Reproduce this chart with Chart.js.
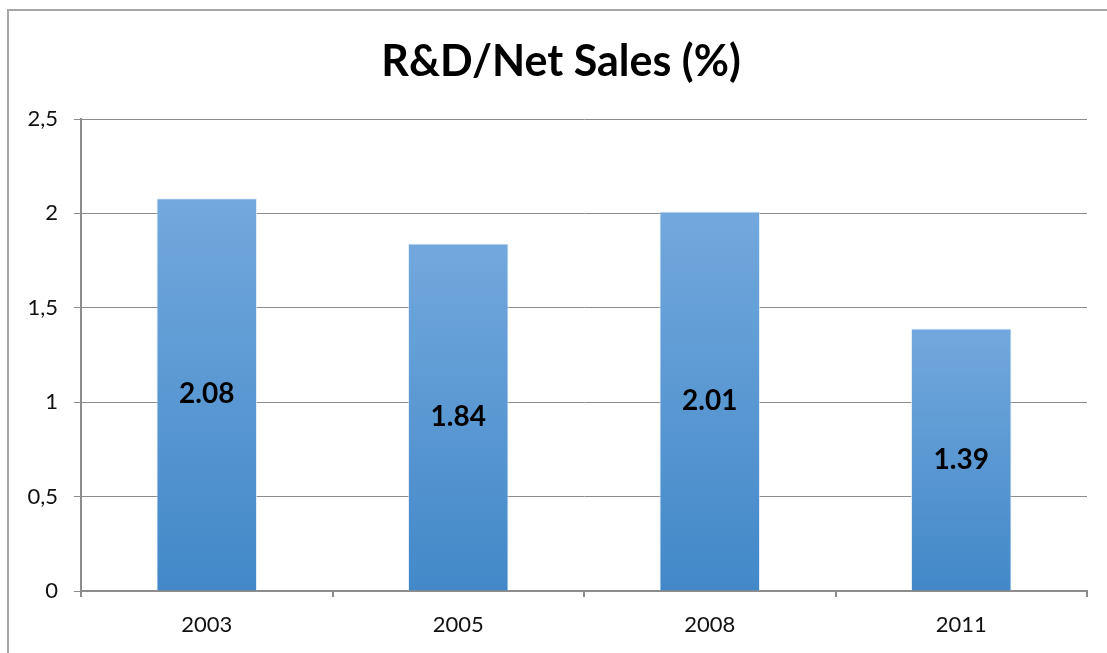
<!DOCTYPE html>
<html>
<head>
<meta charset="UTF-8">
<title>R&amp;D/Net Sales (%)</title>
<script src="https://cdn.jsdelivr.net/npm/chart.js"></script>
<style>
  html, body { margin: 0; padding: 0; background: #fff; overflow: hidden; }
  #frame {
    position: absolute; left: 7px; top: 9px; width: 1200px; height: 700px;
    border-left: 2px solid #a6a6a6; border-top: 2px solid #a6a6a6;
  }
  #wrap { position: absolute; left: 0; top: 0; width: 1107px; height: 653px; }
</style>
</head>
<body>
<div id="frame"></div>
<div id="wrap"><canvas id="chart"></canvas></div>
<script>
// chart data
const years = ['2003', '2005', '2008', '2011'];
const ratio = [2.08, 1.84, 2.01, 1.39];
const yMin = 0, yMax = 2.5, yStep = 0.5;
const chartTitle = 'R&D/Net Sales (%)';

const fontFamily = 'Lato, "Open Sans", sans-serif';

// value labels in the middle of each bar, title over the frame centre
const barLabels = {
    id: 'barLabels',
    afterDatasetsDraw(chart) {
        const ctx = chart.ctx;
        const meta = chart.getDatasetMeta(0);
        ctx.save();
        ctx.font = 'bold 28px ' + fontFamily;
        ctx.fillStyle = '#000';
        ctx.textAlign = 'center';
        ctx.textBaseline = 'middle';
        meta.data.forEach((bar, i) => {
            ctx.fillText(ratio[i].toFixed(2), bar.x, (bar.y + bar.base) / 2);
        });
        ctx.font = 'bold 43px ' + fontFamily;
        ctx.fillText(chartTitle, 561, 62);
        ctx.restore();
    }
};

new Chart(document.getElementById('chart'), {
    type: 'bar',
    data: {
        labels: years,
        datasets: [{
            data: ratio,
            backgroundColor: function(c) {
                const chart = c.chart;
                if (!chart.chartArea) return '#5b9bd5';
                const yScale = chart.scales.y;
                const top = yScale.getPixelForValue(ratio[c.dataIndex]);
                const bottom = yScale.getPixelForValue(0);
                const g = chart.ctx.createLinearGradient(0, top, 0, bottom);
                g.addColorStop(0, '#72a8dd');
                g.addColorStop(1, '#4288c8');
                return g;
            },
            borderColor: 'rgba(220,235,250,0.7)',
            borderWidth: 1,
            categoryPercentage: 1,
            barPercentage: 0.4
        }]
    },
    options: {
        responsive: true,
        maintainAspectRatio: false,
        animation: false,
        layout: { padding: { left: 0, right: 20, top: 119, bottom: 0 } },
        plugins: {
            legend: { display: false },
            tooltip: { enabled: false },
            title: { display: false }
        },
        scales: {
            x: {
                afterFit(scale) { scale.height = 62; },
                grid: { drawOnChartArea: false, drawTicks: true, tickLength: 6, color: '#8c8c8c', lineWidth: 2, offset: true },
                border: { color: '#8c8c8c', width: 2 },
                ticks: { color: '#111', font: { family: fontFamily, size: 22 }, padding: 15 }
            },
            y: {
                min: yMin,
                max: yMax,
                afterFit(scale) { scale.width = 81; },
                grid: { color: '#8c8c8c', lineWidth: 1, tickLength: 7 },
                border: { color: '#8c8c8c', width: 2 },
                ticks: {
                    stepSize: yStep,
                    color: '#111',
                    font: { family: fontFamily, size: 22 },
                    padding: 16,
                    callback: v => String(v).replace('.', ',')
                }
            }
        }
    },
    plugins: [barLabels]
});
</script>
</body>
</html>
